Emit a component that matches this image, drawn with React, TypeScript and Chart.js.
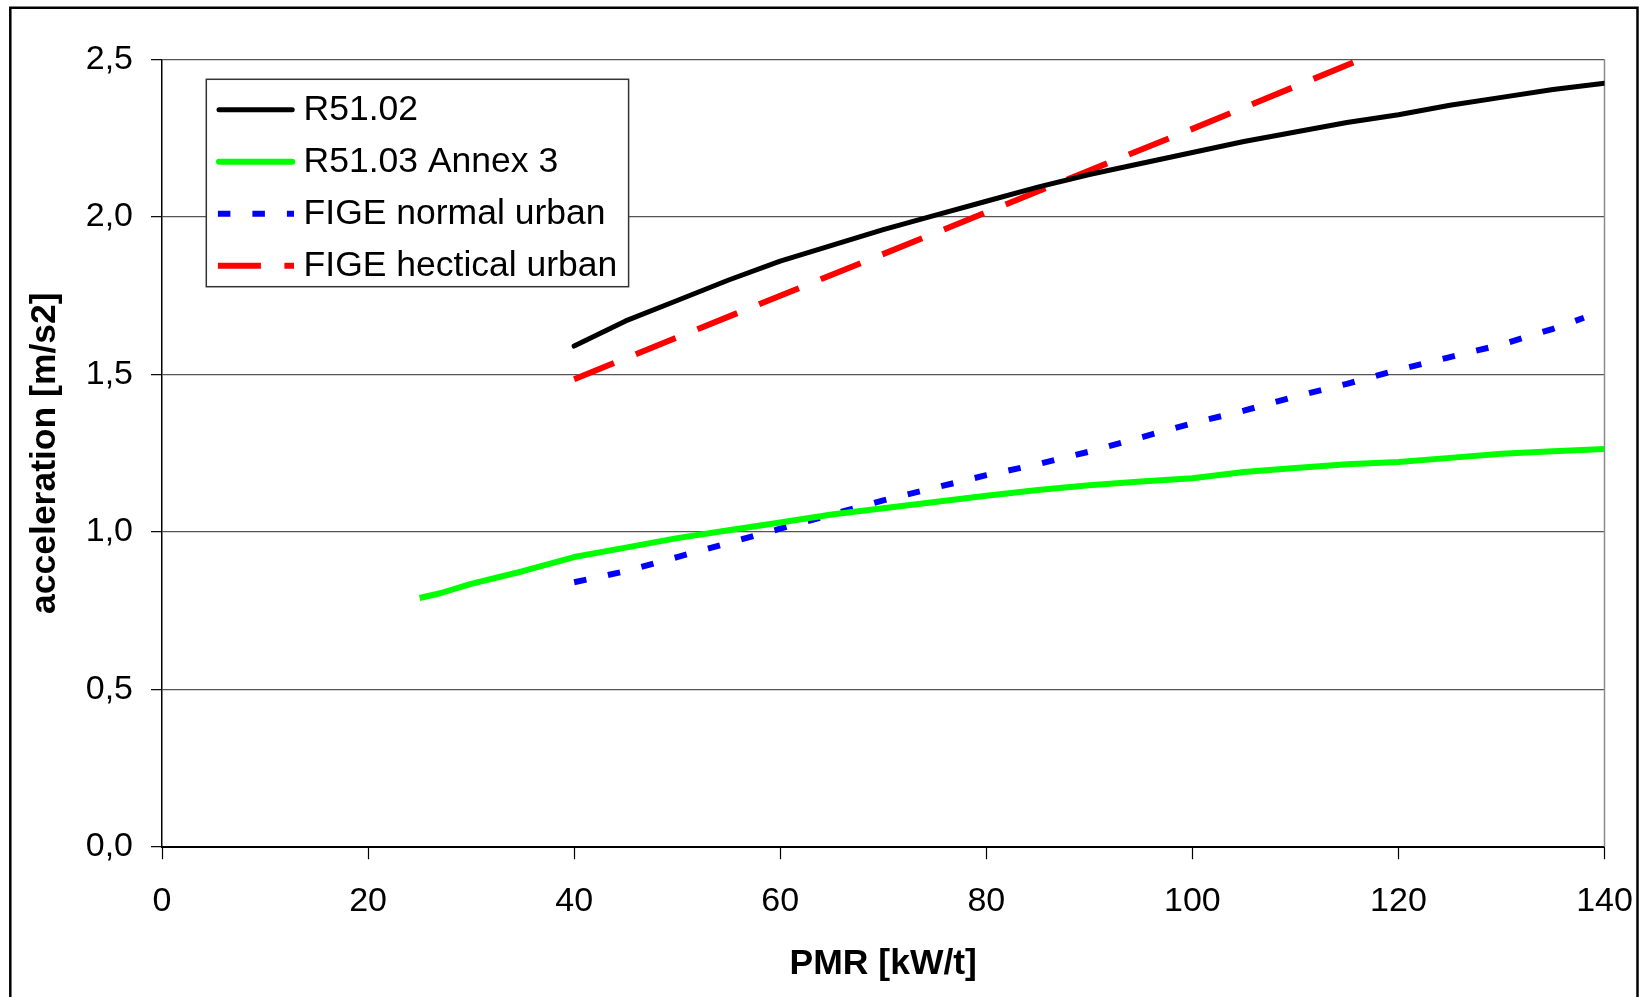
import React, { useEffect, useRef } from 'react';
import { Chart, registerables } from 'chart.js';

Chart.register(...registerables);

// ---- data ----
const seriesLabels = ['R51.02', 'R51.03 Annex 3', 'FIGE normal urban', 'FIGE hectical urban'];

const xTickValues = [0, 20, 40, 60, 80, 100, 120, 140];
const xTickLabels = ['0', '20', '40', '60', '80', '100', '120', '140'];
const yTickValues = [0, 0.5, 1, 1.5, 2, 2.5];
const yTickLabels = ['0,0', '0,5', '1,0', '1,5', '2,0', '2,5'];

const r5102X = [40, 45, 50, 55, 60, 65, 70, 75, 80, 85, 90, 95, 100, 105, 110, 115, 120, 125, 130, 135, 140];
const r5102Y = [1.59, 1.67, 1.735, 1.8, 1.86, 1.91, 1.96, 2.005, 2.05, 2.095, 2.135, 2.17, 2.205, 2.24, 2.27, 2.3, 2.325, 2.355, 2.38, 2.405, 2.425];

const annex3X = [25, 27, 30, 35, 40, 45, 50, 55, 60, 65, 70, 75, 80, 85, 90, 95, 100, 105, 110, 115, 120, 125, 130, 135, 140];
const annex3Y = [0.79, 0.805, 0.835, 0.875, 0.92, 0.95, 0.98, 1.005, 1.03, 1.055, 1.075, 1.095, 1.115, 1.133, 1.148, 1.16, 1.17, 1.19, 1.203, 1.215, 1.222, 1.235, 1.248, 1.256, 1.263];

const normalX = [40, 45, 50, 55, 60, 65, 70, 75, 80, 85, 90, 95, 100, 105, 110, 115, 120, 125, 130, 135, 138];
const normalY = [0.84, 0.875, 0.92, 0.965, 1.01, 1.055, 1.1, 1.14, 1.18, 1.215, 1.255, 1.3, 1.345, 1.385, 1.43, 1.47, 1.515, 1.555, 1.595, 1.645, 1.68];

const hecticX = [40, 60, 80, 100, 120];
const hecticY = [1.485, 1.75, 2.015, 2.28, 2.55];

const xTitle = 'PMR [kW/t]';
const yTitle = 'acceleration [m/s2]';

const FONT = '"Liberation Sans", Arial, sans-serif';

const pts = (xs: number[], ys: number[]) => xs.map((x, i) => ({ x, y: ys[i] }));

const framePlugin = {
  id: 'frame',
  beforeDraw(chart: any) {
    const ctx = chart.ctx;
    ctx.save();
    ctx.fillStyle = '#ffffff';
    ctx.fillRect(0, 0, chart.width, chart.height);
    ctx.restore();
  },
  beforeDatasetsDraw(chart: any) {
    const { ctx, chartArea } = chart;
    ctx.save();
    ctx.strokeStyle = '#8a8a8a';
    ctx.lineWidth = 1.5;
    ctx.beginPath();
    ctx.moveTo(chartArea.right, chartArea.top);
    ctx.lineTo(chartArea.right, chartArea.bottom);
    ctx.stroke();
    ctx.restore();
  },
  afterDraw(chart: any) {
    const ctx = chart.ctx;
    ctx.save();
    // outer chart border
    ctx.strokeStyle = '#000';
    ctx.lineWidth = 2.5;
    ctx.beginPath();
    ctx.moveTo(10.3, 1100);
    ctx.lineTo(10.3, 7.8);
    ctx.lineTo(1637.5, 7.8);
    ctx.lineTo(1637.5, 1100);
    ctx.stroke();

    // legend
    const bx = 206.3, by = 79.3, bw = 422.3, bh = 207.4;
    ctx.fillStyle = '#fff';
    ctx.fillRect(bx, by, bw, bh);
    ctx.strokeStyle = '#333';
    ctx.lineWidth = 1.5;
    ctx.strokeRect(bx, by, bw, bh);
    ctx.font = `35.5px ${FONT}`;
    ctx.textBaseline = 'middle';
    ctx.textAlign = 'left';
    chart.data.datasets.forEach((ds: any, i: number) => {
      const cy = by + 30.5 + i * 52;
      ctx.save();
      ctx.strokeStyle = ds.borderColor;
      ctx.lineWidth = ds.borderWidth;
      const dash = ds.borderDash || [];
      ctx.setLineDash(dash);
      ctx.lineCap = dash.length ? 'butt' : 'round';
      ctx.beginPath();
      ctx.moveTo(dash.length ? 217.9 : 219, cy);
      ctx.lineTo(dash.length ? 294 : 292.2, cy);
      ctx.stroke();
      ctx.restore();
      ctx.fillStyle = '#000';
      ctx.fillText(ds.label, 303.6, cy);
    });
    ctx.restore();
  },
};

export default function App() {
  const ref = useRef<HTMLCanvasElement>(null);

  useEffect(() => {
    const canvas = ref.current as HTMLCanvasElement;
    Chart.defaults.font.family = FONT;
    Chart.defaults.color = '#000';
    const chart = new Chart(canvas, {
      type: 'line',
      data: {
        datasets: [
          {
            label: seriesLabels[0],
            data: pts(r5102X, r5102Y),
            borderColor: '#000000',
            borderWidth: 5,
            borderCapStyle: 'round',
            borderJoinStyle: 'round',
            pointRadius: 0,
            tension: 0,
          },
          {
            label: seriesLabels[1],
            data: pts(annex3X, annex3Y),
            borderColor: '#00ff00',
            borderWidth: 6,
            borderCapStyle: 'butt',
            borderJoinStyle: 'round',
            pointRadius: 0,
            tension: 0,
          },
          {
            label: seriesLabels[2],
            data: pts(normalX, normalY),
            borderColor: '#0000ff',
            borderWidth: 6,
            borderDash: [12.5, 22],
            borderCapStyle: 'butt',
            pointRadius: 0,
            tension: 0,
          },
          {
            label: seriesLabels[3],
            data: pts(hecticX, hecticY),
            borderColor: '#ff0000',
            borderWidth: 6,
            borderDash: [43, 23.5],
            borderCapStyle: 'butt',
            pointRadius: 0,
            tension: 0,
          },
        ],
      },
      options: {
        responsive: false,
        animation: false,
        devicePixelRatio: 1,
        layout: { padding: { left: 0, top: 59.6, right: 34.5, bottom: 0 } },
        plugins: { legend: { display: false }, tooltip: { enabled: false } },
        scales: {
          x: {
            type: 'linear',
            min: 0,
            max: 140,
            afterBuildTicks: (s: any) => {
              s.ticks = xTickValues.map((v) => ({ value: v }));
            },
            afterFit: (s: any) => {
              s.height = 150.3;
              s.paddingLeft = 0;
              s.paddingRight = 0;
            },
            ticks: {
              font: { size: 34 },
              padding: 22,
              maxRotation: 0,
              autoSkip: false,
              callback: (v: any) => xTickLabels[xTickValues.indexOf(Number(v))],
            },
            grid: { drawOnChartArea: false, tickLength: 12.5, tickColor: '#000', tickWidth: 1.2 },
            border: { color: '#000', width: 2 },
            title: {
              display: true,
              text: xTitle,
              font: { size: 35.5, weight: 'bold' },
              padding: { top: 0, bottom: 11.7 },
            },
          },
          y: {
            type: 'linear',
            min: 0,
            max: 2.5,
            afterBuildTicks: (s: any) => {
              s.ticks = yTickValues.map((v) => ({ value: v }));
            },
            afterFit: (s: any) => {
              s.width = 162;
              s.paddingTop = 0;
              s.paddingBottom = 0;
            },
            ticks: {
              font: { size: 34 },
              padding: 18,
              autoSkip: false,
              callback: (v: any) => yTickLabels[yTickValues.indexOf(Number(v))],
            },
            grid: { color: '#555555', lineWidth: 1.3, tickLength: 11, tickColor: '#000', tickWidth: 1.2 },
            border: { color: '#000', width: 1.5 },
            title: {
              display: true,
              text: yTitle,
              font: { size: 35.5, weight: 'bold' },
              padding: { top: 23.7, bottom: 0 },
            },
          },
        },
      },
      plugins: [framePlugin],
    } as any);
    return () => chart.destroy();
  }, []);

  return (
    <div style={{ position: 'fixed', left: 0, top: 0, width: 1639, height: 997, background: '#fff' }}>
      <canvas ref={ref} width={1639} height={997} style={{ display: 'block', width: 1639, height: 997 }} />
    </div>
  );
}
